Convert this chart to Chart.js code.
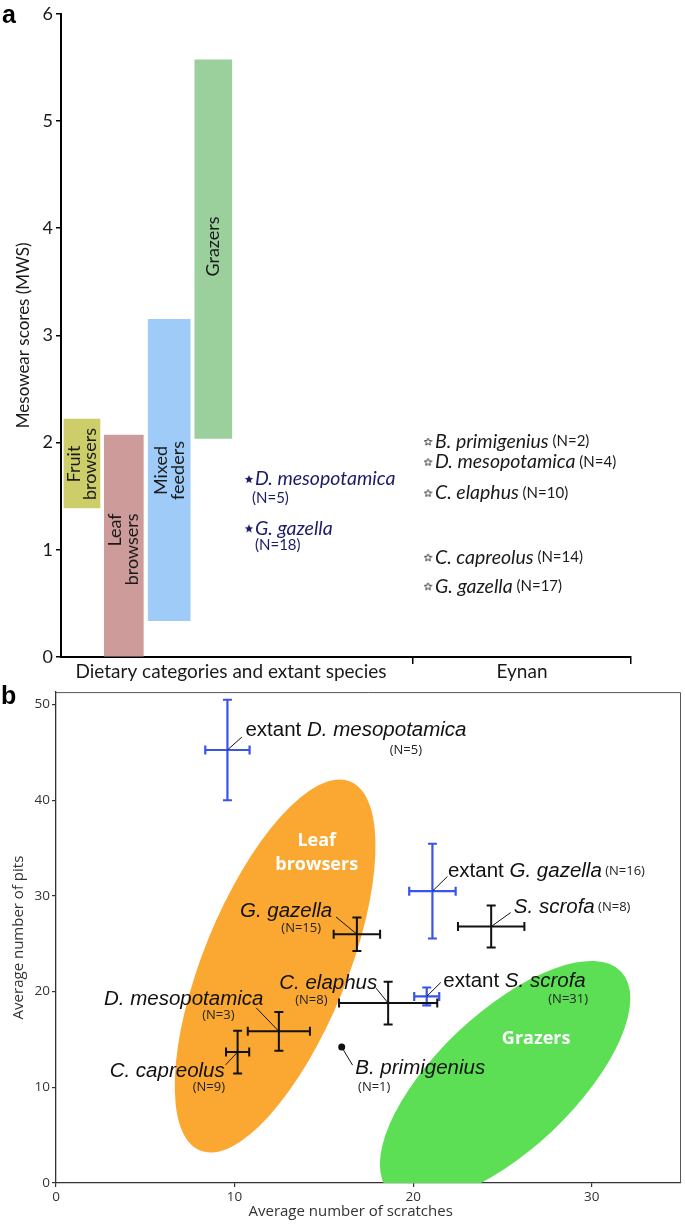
<!DOCTYPE html>
<html><head><meta charset="utf-8">
<script src="https://cdn.jsdelivr.net/npm/chart.js@4.4.1/dist/chart.umd.min.js"></script>
<style>
html,body{margin:0;padding:0;background:#fff;}
#wrap{position:relative;width:685px;height:1227px;overflow:hidden;}
#ca{position:absolute;left:0;top:0;}
#cb{position:absolute;left:0;top:682px;}
.plab{position:absolute;font:bold 25px "Liberation Sans",Arial,sans-serif;color:#000;line-height:1;}
</style></head><body>
<div id="wrap">
<canvas id="ca" width="685" height="682"></canvas>
<canvas id="cb" width="685" height="545"></canvas>
<div class="plab" style="left:2px;top:2px">a</div>
<div class="plab" style="left:1px;top:683px">b</div>
</div>
<script>
// ---------------- DATA: panel a (mesowear) ----------------
const dietCategories = ["Fruit browsers", "Leaf browsers", "Mixed feeders", "Grazers"];
const dietMin = [1.39, 0, 0.34, 2.04];
const dietMax = [2.22, 2.07, 3.15, 5.57];
const extantSpecies = ["D. mesopotamica", "G. gazella"];
const extantN = [5, 18];
const extantMWS = [1.66, 1.20];
const eynanSpecies = ["B. primigenius", "D. mesopotamica", "C. elaphus", "C. capreolus", "G. gazella"];
const eynanN = [2, 4, 10, 14, 17];
const eynanMWS = [2.01, 1.82, 1.53, 0.93, 0.66];
const mwsTicks = [0, 1, 2, 3, 4, 5, 6];

// ---------------- DATA: panel b (microwear) ----------------
const microSpecies = ["extant D. mesopotamica", "extant G. gazella", "S. scrofa", "G. gazella", "C. elaphus", "extant S. scrofa", "D. mesopotamica", "C. capreolus", "B. primigenius"];
const microN = [5, 16, 8, 15, 8, 31, 3, 9, 1];
const microExtant = [true, true, false, false, false, true, false, false, false];
const scratchMean = [9.6, 21.08, 24.37, 16.85, 18.6, 20.76, 12.48, 10.17, 16.0];
const scratchErr = [1.24, 1.3, 1.86, 1.3, 2.75, 0.7, 1.74, 0.65, 0];
const pitMean = [45.25, 30.5, 26.8, 26.0, 18.8, 19.5, 15.85, 13.68, 14.2];
const pitErr = [5.25, 4.95, 2.2, 1.75, 2.23, 0.93, 2.03, 2.23, 0];
const zoneNames = ["Leaf browsers", "Grazers"];
// ellipse regions in data units: centre, end of major semi-axis, end of minor semi-axis
const zoneCentre = [[12.27, 22.68], [25.15, 10.62]];
const zoneMajorEnd = [[16.47, 41.97], [31.65, 22.08]];
const zoneMinorEnd = [[16.02, 19.9], [27.81, 5.47]];

// ---------------- LAYOUT / STYLE (panel a) ----------------
const A = {
  xMax: 100, eynanSplit: 61.75,
  dietX: [3.68, 11.02, 18.98, 26.72], dietW: [36, 39, 42, 37],
  dietColors: ["#cdcd6a", "#cd9b9a", "#9ecbf8", "#9bcf9b"],
  dietText: [
    {lines: ["Fruit", "browsers"], y: 1.80, align: "center", dx: [-7.5, 8.5]},
    {lines: ["Leaf", "browsers"], y: 1.34, align: "right", dx: [-8.5, 8.5]},
    {lines: ["Mixed", "feeders"], y: 1.74, align: "center", dx: [-7.5, 9]},
    {lines: ["Grazers"], y: 3.83, align: "center", dx: [0]}
  ],
  extantX: 32.98, eynanX: 64.39,
  navy: "#1b1b6b",
  font: "Lato"
};
// ---------------- LAYOUT / STYLE (panel b) ----------------
const B = {
  zoneColors: ["#fba833", "#5ddf55"],
  zoneLabel: [[[14.6, 35.8, "Leaf"], [14.6, 33.2, "browsers"]], [[26.89, 15.05, "Grazers"]]],
  blue: "#3a55e6", black: "#111",
  layout: [
    {name: [10.61, 47.33, "left"], n: [19.59, 45.24], lead: [10.41, 46.6]},
    {name: [21.95, 32.54, "left"], n: "inline", lead: [21.92, 32.03]},
    {name: [25.64, 28.84, "left"], n: "inline", lead: [25.46, 28.26]},
    {name: [15.47, 28.4, "right"], n: [13.73, 26.65], lead: [15.68, 27.8]},
    {name: [17.99, 20.88, "right"], n: [14.3, 19.06], lead: [17.92, 20.37]},
    {name: [21.69, 21.06, "left"], n: [28.68, 19.19], lead: [21.55, 20.96]},
    {name: [11.62, 19.17, "right"], n: [9.09, 17.52], lead: [11.21, 18.31]},
    {name: [9.45, 11.63, "right"], n: [8.56, 9.98], lead: [9.5, 12.35]},
    {name: [16.76, 11.97, "left"], n: [17.82, 9.98], lead: [16.61, 12.31]}
  ],
  xTitleAt: 16.5
};

function makeStar(size, fill, stroke) {
  const c = document.createElement('canvas'); c.width = c.height = size;
  const g = c.getContext('2d'); const cx = size / 2, cy = size / 2 + 0.4, R = size / 2 - 0.6, r = R * 0.45;
  g.beginPath();
  for (let i = 0; i < 10; i++) { const a = -Math.PI / 2 + i * Math.PI / 5; const rr = i % 2 ? r : R; g.lineTo(cx + rr * Math.cos(a), cy + rr * Math.sin(a)); }
  g.closePath();
  if (fill) { g.fillStyle = fill; g.fill(); }
  if (stroke) { g.strokeStyle = stroke; g.lineWidth = 0.9; g.stroke(); }
  return c;
}

function drawRich(ctx, segs, x, y, align) {
  let w = 0;
  segs.forEach(s => { ctx.font = s.font; s.w = ctx.measureText(s.t).width; w += s.w; });
  let sx = align === "right" ? x - w : (align === "center" ? x - w / 2 : x);
  ctx.textAlign = "left"; ctx.textBaseline = "middle";
  segs.forEach(s => { ctx.font = s.font; ctx.fillStyle = s.color; ctx.fillText(s.t, sx, y); sx += s.w; });
  return sx;
}

// ---------------- PANEL A ----------------
const barSets = dietCategories.map((c, i) => ({
  type: 'bar', label: c, grouped: false,
  data: [{x: A.dietX[i], y: [dietMin[i], dietMax[i]]}],
  backgroundColor: A.dietColors[i], borderWidth: 0, barThickness: A.dietW[i]
}));
const starFilled = makeStar(10, A.navy, null);
const starOpen = makeStar(9, null, "#222");

const panelAPlugin = {
  id: 'panelA',
  afterDatasetsDraw(chart) {
    const {ctx, scales: {x, y}, chartArea: a} = chart;
    ctx.save();
    // text inside bars
    A.dietText.forEach((t, i) => {
      const px = x.getPixelForValue(A.dietX[i]), py = y.getPixelForValue(t.y);
      ctx.save(); ctx.translate(px, py); ctx.rotate(-Math.PI / 2);
      ctx.font = "18px " + A.font; ctx.fillStyle = "#1a1a1a"; ctx.textBaseline = "middle"; ctx.textAlign = t.align;
      t.lines.forEach((l, k) => ctx.fillText(l, 0, t.dx[k]));
      ctx.restore();
    });
    // extant species labels
    extantSpecies.forEach((s, i) => {
      const px = x.getPixelForValue(A.extantX) + 6, py = y.getPixelForValue(extantMWS[i]);
      drawRich(ctx, [{t: s, font: "italic 19.5px " + A.font, color: A.navy}], px, py, "left");
      drawRich(ctx, [{t: "(N=" + extantN[i] + ")", font: "15px " + A.font, color: A.navy}], px + (i === 0 ? -3 : 0), py + (i === 0 ? 19 : 17), "left");
    });
    // Eynan labels
    eynanSpecies.forEach((s, i) => {
      const px = x.getPixelForValue(A.eynanX) + 7, py = y.getPixelForValue(eynanMWS[i]);
      drawRich(ctx, [{t: s, font: "italic 19.5px " + A.font, color: "#1a1a1a"}, {t: " (N=" + eynanN[i] + ")", font: "15px " + A.font, color: "#1a1a1a"}], px, py, "left");
    });
    // x-axis group labels
    const base = a.bottom + 15;
    ctx.font = "19px " + A.font; ctx.fillStyle = "#1a1a1a"; ctx.textAlign = "center"; ctx.textBaseline = "middle";
    ctx.fillText("Dietary categories and extant species", (x.getPixelForValue(0) + x.getPixelForValue(A.eynanSplit)) / 2 - 6, base);
    ctx.fillText("Eynan", (x.getPixelForValue(A.eynanSplit) + x.getPixelForValue(A.xMax)) / 2, base);
    ctx.restore();
  }
};

new Chart(document.getElementById('ca'), {
  type: 'bar',
  data: {
    datasets: [
      ...barSets,
      {type: 'scatter', label: 'extant', data: extantMWS.map(v => ({x: A.extantX, y: v})), pointStyle: starFilled, pointRadius: 5},
      {type: 'scatter', label: 'Eynan', data: eynanMWS.map(v => ({x: A.eynanX, y: v})), pointStyle: starOpen, pointRadius: 5}
    ]
  },
  options: {
    responsive: false, animation: false, devicePixelRatio: 1,
    layout: {padding: {top: 12, right: 54, left: 0, bottom: 0}},
    plugins: {legend: {display: false}, tooltip: {enabled: false}},
    scales: {
      x: {
        type: 'linear', min: 0, max: A.xMax, offset: false,
        grid: {display: true, drawOnChartArea: false, drawTicks: true, tickLength: 7, color: '#000', lineWidth: 1.5, offset: false},
        border: {display: true, color: '#000', width: 2},
        ticks: {display: false},
        afterBuildTicks: s => { s.ticks = [{value: A.eynanSplit}, {value: A.xMax}]; },
        afterFit: s => { s.height = 25; }
      },
      y: {
        type: 'linear', min: 0, max: 6,
        afterBuildTicks: s => { s.ticks = mwsTicks.map(v => ({value: v})); },
        ticks: {font: {family: A.font, size: 18}, color: '#1a1a1a', padding: 3},
        grid: {drawOnChartArea: false, drawTicks: true, tickLength: 5, color: '#000', lineWidth: 1.5},
        border: {color: '#000', width: 2},
        title: {display: true, text: 'Mesowear scores (MWS)', font: {family: A.font, size: 17}, color: '#1a1a1a', padding: {top: 13, bottom: 0}},
        afterFit: s => { s.width = 61; }
      }
    }
  },
  plugins: [panelAPlugin]
});

// ---------------- PANEL B ----------------
function pt(i) {
  return {x: scratchMean[i], y: pitMean[i], xMin: scratchMean[i] - scratchErr[i], xMax: scratchMean[i] + scratchErr[i],
    yMin: pitMean[i] - pitErr[i], yMax: pitMean[i] + pitErr[i], idx: i};
}
const idxAll = microSpecies.map((s, i) => i);
const extantPts = idxAll.filter(i => microExtant[i] && microN[i] > 1).map(pt);
const fossilPts = idxAll.filter(i => !microExtant[i] && microN[i] > 1).map(pt);
const singlePts = idxAll.filter(i => microN[i] === 1).map(pt);

const panelBPlugin = {
  id: 'panelB',
  beforeDatasetsDraw(chart) {
    const {ctx, chartArea: a, scales: {x, y}} = chart;
    ctx.save();
    ctx.beginPath(); ctx.rect(a.left, a.top, a.right - a.left, a.bottom - a.top); ctx.clip();
    zoneNames.forEach((z, i) => {
      const cx = x.getPixelForValue(zoneCentre[i][0]), cy = y.getPixelForValue(zoneCentre[i][1]);
      const mx = x.getPixelForValue(zoneMajorEnd[i][0]) - cx, my = y.getPixelForValue(zoneMajorEnd[i][1]) - cy;
      const nx = x.getPixelForValue(zoneMinorEnd[i][0]) - cx, ny = y.getPixelForValue(zoneMinorEnd[i][1]) - cy;
      ctx.beginPath();
      ctx.ellipse(cx, cy, Math.hypot(mx, my), Math.hypot(nx, ny), Math.atan2(my, mx), 0, 2 * Math.PI);
      ctx.fillStyle = B.zoneColors[i]; ctx.fill();
    });
    ctx.font = "bold 18px 'Open Sans'"; ctx.fillStyle = "#fff"; ctx.textAlign = "center"; ctx.textBaseline = "middle";
    B.zoneLabel.forEach(zl => zl.forEach(l => ctx.fillText(l[2], x.getPixelForValue(l[0]), y.getPixelForValue(l[1]))));
    ctx.restore();
  },
  afterDatasetsDraw(chart) {
    const {ctx, chartArea: a, scales: {x, y}} = chart;
    ctx.save();
    // top & right frame
    ctx.strokeStyle = "#555"; ctx.lineWidth = 1;
    ctx.beginPath(); ctx.moveTo(a.left, a.top + 0.5); ctx.lineTo(a.right - 0.5, a.top + 0.5); ctx.lineTo(a.right - 0.5, a.bottom); ctx.stroke();
    // error bars
    chart.data.datasets.forEach(ds => {
      if (!ds.errorBars) return;
      ctx.strokeStyle = ds.errColor; ctx.lineWidth = ds.errWidth; const cap = 4.5;
      ds.data.forEach(d => {
        const px = x.getPixelForValue(d.x), py = y.getPixelForValue(d.y);
        const x0 = x.getPixelForValue(d.xMin), x1 = x.getPixelForValue(d.xMax);
        const y0 = y.getPixelForValue(d.yMin), y1 = y.getPixelForValue(d.yMax);
        ctx.beginPath();
        ctx.moveTo(x0, py); ctx.lineTo(x1, py);
        ctx.moveTo(x0, py - cap); ctx.lineTo(x0, py + cap);
        ctx.moveTo(x1, py - cap); ctx.lineTo(x1, py + cap);
        ctx.moveTo(px, y0); ctx.lineTo(px, y1);
        ctx.moveTo(px - cap, y0); ctx.lineTo(px + cap, y0);
        ctx.moveTo(px - cap, y1); ctx.lineTo(px + cap, y1);
        ctx.stroke();
      });
    });
    // labels & leaders
    const nameFont = "20.5px 'Liberation Sans'", itFont = "italic 20.5px 'Liberation Sans'", nFont = "13px 'Open Sans'";
    microSpecies.forEach((s, i) => {
      const L = B.layout[i];
      ctx.strokeStyle = "#111"; ctx.lineWidth = 1;
      ctx.beginPath(); ctx.moveTo(x.getPixelForValue(scratchMean[i]), y.getPixelForValue(pitMean[i]));
      ctx.lineTo(x.getPixelForValue(L.lead[0]), y.getPixelForValue(L.lead[1])); ctx.stroke();
      const segs = [];
      if (s.startsWith("extant ")) { segs.push({t: "extant ", font: nameFont, color: "#111"}); segs.push({t: s.slice(7), font: itFont, color: "#111"}); }
      else segs.push({t: s, font: itFont, color: "#111"});
      const nTxt = "(N=" + microN[i] + ")";
      if (L.n === "inline") segs.push({t: " " + nTxt, font: nFont, color: "#222"});
      drawRich(ctx, segs, x.getPixelForValue(L.name[0]), y.getPixelForValue(L.name[1]), L.name[2]);
      if (L.n !== "inline") drawRich(ctx, [{t: nTxt, font: nFont, color: "#222"}], x.getPixelForValue(L.n[0]), y.getPixelForValue(L.n[1]), "center");
    });
    // x title
    ctx.font = "15px 'Open Sans'"; ctx.fillStyle = "#333"; ctx.textAlign = "center"; ctx.textBaseline = "middle";
    ctx.fillText("Average number of scratches", x.getPixelForValue(B.xTitleAt), a.bottom + 29);
    ctx.restore();
  }
};

new Chart(document.getElementById('cb'), {
  type: 'scatter',
  data: {
    datasets: [
      {label: 'extant', data: extantPts, pointRadius: 0, errorBars: true, errColor: B.blue, errWidth: 2.2},
      {label: 'Eynan', data: fossilPts, pointRadius: 0, errorBars: true, errColor: B.black, errWidth: 2},
      {label: 'single', data: singlePts, pointRadius: 3.5, backgroundColor: '#111', borderWidth: 0}
    ]
  },
  options: {
    responsive: false, animation: false, devicePixelRatio: 1,
    layout: {padding: {top: 2, right: 2, left: 0, bottom: 0}},
    plugins: {legend: {display: false}, tooltip: {enabled: false}},
    scales: {
      x: {
        type: 'linear', min: 0, max: 35,
        ticks: {stepSize: 10, includeBounds: false, font: {family: 'Open Sans', size: 13.5}, color: '#333', padding: 2},
        grid: {drawOnChartArea: false, drawTicks: true, tickLength: 4, color: '#333', lineWidth: 1.2},
        border: {color: '#333', width: 1.3},
        afterFit: s => { s.height = 44; }
      },
      y: {
        type: 'linear', min: 0, max: 51.3,
        ticks: {stepSize: 10, includeBounds: false, font: {family: 'Open Sans', size: 13.5}, color: '#333', padding: 2},
        grid: {drawOnChartArea: false, drawTicks: true, tickLength: 4, color: '#333', lineWidth: 1.2},
        border: {color: '#333', width: 1.3},
        title: {display: true, text: 'Average number of pits', font: {family: 'Open Sans', size: 15}, color: '#333', padding: {top: 10, bottom: 0}},
        afterFit: s => { s.width = 56; }
      }
    }
  },
  plugins: [panelBPlugin]
});
</script>
</body></html>
